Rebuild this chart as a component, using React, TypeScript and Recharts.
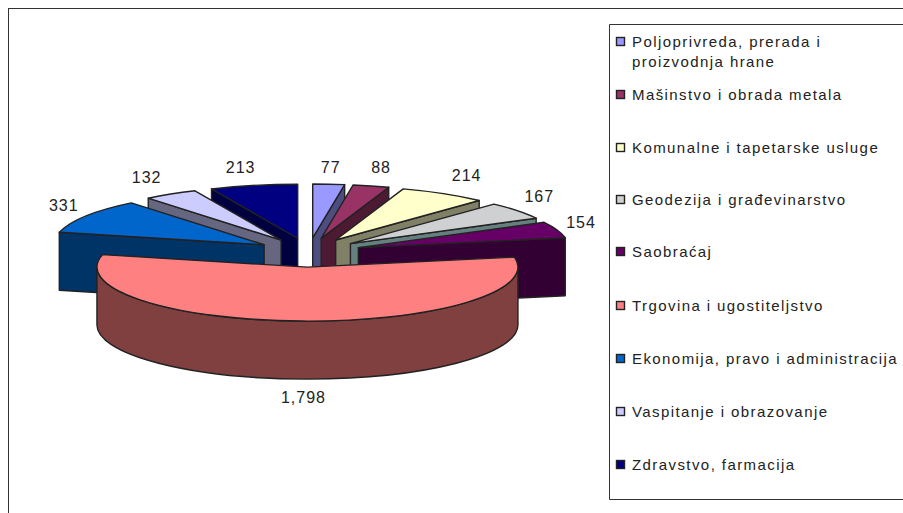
import { Legend, Pie, PieChart } from "recharts";

const categories = [
  "Poljoprivreda, prerada i proizvodnja hrane",
  "Mašinstvo i obrada metala",
  "Komunalne i tapetarske usluge",
  "Geodezija i građevinarstvo",
  "Saobraćaj",
  "Trgovina i ugostiteljstvo",
  "Ekonomija, pravo i administracija",
  "Vaspitanje i obrazovanje",
  "Zdravstvo, farmacija",
];
const values = [77, 88, 214, 167, 154, 1798, 331, 132, 213];
const topColors = ["#9999ff", "#993366", "#ffffcc", "#cfd0d2", "#660066", "#ff8080", "#0066cc", "#ccccff", "#000080"];
const wallColors = ["#4d4d80", "#4d1a33", "#808066", "#668080", "#330033", "#804040", "#003366", "#666680", "#000040"];

// painter's order, back slices first and the big front slice last
const drawOrder = [0, 1, 2, 3, 4, 8, 7, 6, 5];

const chartData = categories.map((name, index) => ({
  name,
  value: values[index],
  index,
  fill: topColors[index],
  wall: wallColors[index],
}));

const CX = 308.7;
const CY = 252.5;
const RX = 210.5;
const RY = 54;
const DEPTH = 58;
const EXPLODE_X = 0.25;
const EXPLODE_Y = 0.27;
const OUTLINE = "#222222";

// nudges from the rim of each slice to its value label
const labelNudge = [
  [2, -17],
  [10, -18],
  [23, -18],
  [22, -14],
  [24, -7],
  [1, 18],
  [-22, -11],
  [-24, -17],
  [-13, -18],
];

// recharts angles run counter-clockwise from 3 o'clock, this flattens them onto the ellipse
function rimPoint(ox: number, oy: number, angle: number) {
  const rad = (angle * Math.PI) / 180;
  return { x: ox + RX * Math.cos(rad), y: oy - RY * Math.sin(rad) };
}

function sliceOrigin(midAngle: number) {
  const rad = (midAngle * Math.PI) / 180;
  return {
    x: CX + EXPLODE_X * RX * Math.cos(rad),
    y: CY - EXPLODE_Y * RY * Math.sin(rad),
  };
}

function arcPath(ox: number, oy: number, from: number, to: number) {
  const end = rimPoint(ox, oy, to);
  const large = Math.abs(to - from) > 180 ? 1 : 0;
  return `A ${RX} ${RY} 0 ${large} 1 ${end.x} ${end.y}`;
}

function Slice(props: any) {
  const { startAngle, endAngle, midAngle, payload, only } = props;
  if (payload?.index !== only) return <g />;
  const origin = sliceOrigin(midAngle);
  const start = rimPoint(origin.x, origin.y, startAngle);
  const end = rimPoint(origin.x, origin.y, endAngle);
  const walls: string[] = [];

  // radial wall facing the viewer
  const mid = ((midAngle % 360) + 360) % 360;
  const isFront = only === 5;
  if (!isFront) {
    const edge = mid < 90 || mid > 270 ? end : start;
    walls.push(
      `M ${origin.x} ${origin.y} L ${edge.x} ${edge.y} L ${edge.x} ${edge.y + DEPTH} L ${origin.x} ${origin.y + DEPTH} Z`,
    );
  } else {
    // outer wall only from 9 o'clock round to 3 o'clock (through the bottom)
    const left = rimPoint(origin.x, origin.y, 180);
    const right = rimPoint(origin.x, origin.y, 360);
    const back = rimPoint(origin.x, origin.y + DEPTH, 360);
    walls.push(
      `M ${right.x} ${right.y} ${arcPath(origin.x, origin.y, 0, -180)} L ${left.x} ${left.y + DEPTH} ` +
        `A ${RX} ${RY} 0 0 0 ${back.x} ${back.y} Z`,
    );
  }

  const top = `M ${origin.x} ${origin.y} L ${start.x} ${start.y} ${arcPath(origin.x, origin.y, startAngle, endAngle)} Z`;

  return (
    <g>
      {walls.map((d) => (
        <path key={d} d={d} fill={payload.wall} stroke={OUTLINE} strokeWidth={1.4} strokeLinejoin="round" />
      ))}
      <path d={top} fill={payload.fill} stroke={OUTLINE} strokeWidth={1.4} strokeLinejoin="round" />
    </g>
  );
}

function SliceLabel(props: any) {
  const { midAngle, payload, only } = props;
  if (payload?.index !== only) return <g />;
  const origin = sliceOrigin(midAngle);
  const rim = rimPoint(origin.x, origin.y, midAngle);
  const [dx, dy] = labelNudge[only];
  const drop = only === 5 ? DEPTH : 0;
  return (
    <text
      x={rim.x + dx}
      y={rim.y + dy + drop}
      textAnchor="middle"
      dominantBaseline="central"
      fontFamily="Liberation Sans"
      fontSize={16}
      letterSpacing={1}
      fill="#222222"
    >
      {payload.value.toLocaleString("en-US")}
    </text>
  );
}

const legendRows = [41.5, 94.5, 147.5, 199.5, 251.5, 305.5, 358.5, 411.5, 464.5];

function LegendBox() {
  return (
    <svg width={294} height={476} style={{ display: "block", overflow: "visible" }}>
      <path d="M 294 0.5 H 0.5 V 475.5 H 294" fill="none" stroke="#333333" />
      {categories.map((name, i) => {
        const y = legendRows[i] - 24;
        const wrapped = i === 0;
        return (
          <g key={name}>
            <rect x={7.5} y={Math.round(y) - 4.5} width={8} height={8} fill={topColors[i]} stroke="#222222" strokeWidth={1.4} />
            <text
              x={23}
              y={y}
              dominantBaseline="central"
              fontFamily="Liberation Sans"
              fontSize={15}
              letterSpacing={1.42}
              fill="#222222"
            >
              {wrapped ? "Poljoprivreda, prerada i" : name}
            </text>
            {wrapped && (
              <text
                x={23}
                y={y + 20}
                dominantBaseline="central"
                fontFamily="Liberation Sans"
                fontSize={15}
                letterSpacing={1.42}
                fill="#222222"
              >
                proizvodnja hrane
              </text>
            )}
          </g>
        );
      })}
    </svg>
  );
}

export default function App() {
  return (
    <div style={{ position: "absolute", left: 0, top: 0, width: 903, height: 513, overflow: "hidden", background: "#fff" }}>
      <div style={{ position: "absolute", left: 8, top: 8, width: 900, height: 520, border: "1px solid #333333" }} />
      <PieChart width={903} height={513} style={{ position: "absolute", left: 0, top: 0 }}>
        {drawOrder.map((only) => (
          <Pie
            key={only}
            data={chartData}
            dataKey="value"
            nameKey="name"
            cx={CX}
            cy={CY}
            outerRadius={RX}
            startAngle={90}
            endAngle={-270}
            isAnimationActive={false}
            legendType={only === 0 ? "square" : "none"}
            shape={(p: any) => <Slice {...p} only={only} />}
            label={(p: any) => <SliceLabel {...p} only={only} />}
            labelLine={false}
          />
        ))}
        <Legend
          layout="vertical"
          verticalAlign="top"
          align="right"
          content={() => <LegendBox />}
          wrapperStyle={{ position: "absolute", left: 609, top: 24, width: 294, height: 476 }}
        />
      </PieChart>
    </div>
  );
}
